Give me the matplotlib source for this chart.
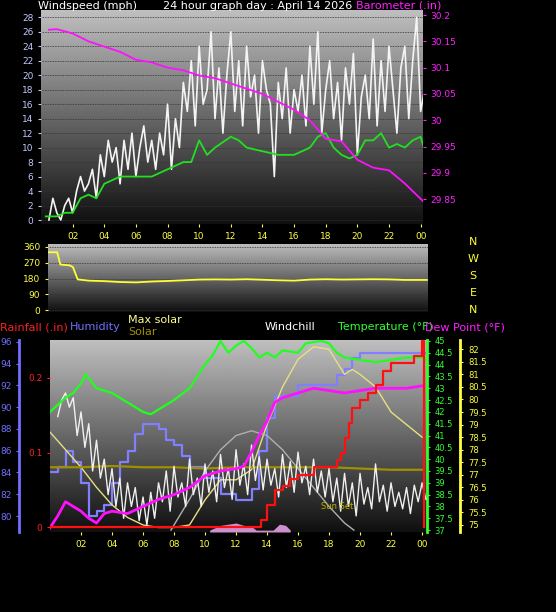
import numpy as np
import matplotlib
matplotlib.use("Agg")
import matplotlib.pyplot as plt

W, H = 556, 612
# ---------------- data ----------------
baro_t = [0.5,1,2,3,4,5,6,7,8,9,10,11,12,13,14,15,16,17,18,19,20,21,22,23,24.2]
baro = [30.172,30.173,30.165,30.15,30.14,30.13,30.115,30.11,30.10,30.095,30.085,30.08,30.07,30.06,30.05,30.035,30.02,30.0,29.965,29.96,29.925,29.91,29.905,29.88,29.845]
wavg_t = [0.3,1,1.5,2,2.5,3,3.5,4,5,6,7,8,9,9.5,10,10.5,11,12,12.5,13,14,15,16,17,17.5,18,18.5,19,19.5,20,20.5,21,21.5,22,22.5,23,23.5,24,24.2]
wavg = [0.5,0.5,1,1,3,3.5,3,5,6,6,6,7,8,8,11,9,10,11.5,11,10,9.5,9,9,10,11.5,12,10,9,8.5,9,11,11,12,10,10.5,10,11,11.5,10]
gust = [0,3,1,0,2,3,1,4, 6,4,5,7,3,9,6,11, 8,10,5,11,7,12,6,10, 13,8,11,7,12,9,16,7,
        14,10,19,15,22,13,24,16, 18,26,14,21,12,20,26,15, 22,13,24,17,20,12,22,18,
        16,6,19,14,21,12,18,15, 20,13,24,16,26,12,18,22, 14,19,11,21,16,23,9,17,
        20,14,25,13,22,15,24,18, 12,21,24,14,22,28,15,18]
dir_t = [0.4,1.0,1.2,1.8,2.0,2.3,3,4,5,6,7,8,9,10,11,12,13,14,15,16,17,18,19,20,21,22,23,24.4]
wdir = [330,330,260,255,245,175,168,165,160,158,163,166,170,174,175,174,176,173,170,168,174,176,174,175,176,175,172,172]

t3 = [0,0.5,1,1.5,2,2.3,3,4,5,6,6.5,7,8,9,10,10.5,11,11.5,12,12.5,13,13.5,14,14.5,15,16,16.5,17.5,18,18.5,19,20,21,22,23,24,24.2]
temp = [42.0,42.3,42.6,42.8,43.2,43.6,43.0,42.8,42.4,42.0,41.9,42.1,42.5,43.0,44.0,44.4,45.0,44.5,44.8,45.0,44.7,44.3,44.5,44.3,44.6,44.5,44.9,45.0,44.9,44.5,44.3,44.2,44.1,44.2,44.3,44.3,44.2]
hum_t = [0,0.5,1,1.5,2,2.5,3,3.5,4,4.5,5,5.5,6,7,7.5,8,8.5,9,10,11,12,13,13.5,14,14.5,15,16,17,18,18.5,19,19.5,20,24,24.2]
hum = [84,84.5,86,85,83,80,80.5,81,83,85,86,87.5,88.5,88,87,86.5,85.5,84.5,83.5,82,81.5,82.5,86,89,91,91,92,92,92,93,93.5,94.5,95,95,95]
dew_t = [0,0.5,1,1.5,2,2.5,3,3.5,4,5,6,7,8,9,10,11,12,12.5,13,13.5,14,14.5,15,16,17,18,19,20,21,22,23,24]
dew = [37.1,37.6,38.2,38.0,37.8,37.5,37.3,37.7,37.8,37.7,38.0,38.3,38.5,38.8,39.3,39.5,39.6,39.7,40.3,41.0,41.6,42.4,42.6,42.8,43.0,42.9,42.8,42.9,43.0,43.0,43.0,43.1]
rain_t = [0,13.6,14,14.5,15,15.5,16,17,18.5,18.8,19,19.3,19.5,20,20.5,21,21.5,22,23.5,24,24.1]
rain = [0,0.01,0.03,0.05,0.055,0.065,0.07,0.08,0.09,0.10,0.12,0.14,0.16,0.17,0.18,0.19,0.21,0.22,0.23,0.25,0.0]
maxsol_t = [0,1,2,3,4,5,6,7,8,9,10,11,12,13,14,15,16,17,18,18.5,19,19.5,20,21,22,23,24]
maxsol = [78.7,78,77.3,76.5,75.8,75.3,75,74.9,74.9,75,76,76.8,76.8,77.2,79,80.5,81.6,82.1,82,81.5,81,81.2,81,80.5,79.5,79,78.5]
sol_t = [0,2,4,6,8,10,12,14,16,18,20,22,24]
sol = [77.3,77.3,77.35,77.3,77.3,77.25,77.3,77.3,77.3,77.3,77.25,77.2,77.2]
arc_t = [7.8,9,10,11,12,13,14,15,16,17,18,19,19.6]
arc = [37.0,38.3,39.5,40.4,41.0,41.2,41.0,40.4,39.6,38.8,38.0,37.3,37.0]
wc = [41.8,42.5,42.8,42.2,42.6,41.0,42.0,40.5, 41.5,39.5,40.8,39.2,40.0,38.5,39.6,38.0,
      39.2,37.5,39.0,38.0,38.8,37.4,38.4,37.2, 38.6,37.5,39.0,38.2,39.5,37.8,39.7,38.4,
      39.0,38.0,40.0,38.5,39.2,38.0,39.8,38.6, 39.5,38.2,40.2,38.8,39.6,38.3,40.4,38.9,
      39.8,38.5,40.6,39.1,40.1,38.7,40.0,38.9, 39.6,38.4,40.2,38.8,39.9,38.6,40.3,39.0,
      39.7,38.5,40.0,38.6,39.5,38.4,39.6,38.2, 39.2,37.8,39.4,38.0,39.0,37.6,39.4,38.1,
      38.8,37.9,39.8,38.2,38.9,37.8,39.0,38.0, 38.6,37.9,38.8,37.7,38.9,38.2,39.0,38.3]
rad_t = [10.3,11,11.5,12,12.5,13,13.3,14.4,14.8,15.2,15.5]
rad = [37.0,37.2,37.25,37.3,37.2,37.15,37.0,37.0,37.25,37.2,37.0]

hour_ticks = [2,4,6,8,10,12,14,16,18,20,22,24]
hour_labels = ["02","04","06","08","10","12","14","16","18","20","22","00"]

# --------------- helpers --------------
fig = plt.figure(figsize=(W/100, H/100), dpi=100, facecolor="black")
plt.rcParams['font.family'] = ['DejaVu Sans']

def rect(l, t, r, b):
    return [l/W, 1-b/H, (r-l)/W, (b-t)/H]

def grad(ax):
    g = np.linspace(0.06, 0.75, 256)[:, None]
    ax.imshow(g, cmap="gray", vmin=0, vmax=1, aspect="auto", extent=(0, 1, 0, 1),
              transform=ax.transAxes, zorder=0, origin="lower")

def base(ax, xl, yl, ycol):
    ax.set_facecolor("black")
    grad(ax)
    ax.set_xlim(*xl); ax.set_ylim(*yl)
    for s in ax.spines.values():
        s.set_visible(False)
    ax.tick_params(colors=ycol, labelsize=6.5, length=2)
    ax.grid(axis="y", color="#333333", lw=0.6, ls=(0, (1, 1)))
    ax.set_axisbelow(False)

fs = 8
# -------------- panel 1 ---------------
ax1 = fig.add_axes(rect(41, 10, 423, 224))
base(ax1, (0, 24.15), (-0.55, 29.0), "#c0c8ff")
ax1.set_yticks(range(0, 29, 2))
ax1.set_xticks(hour_ticks); ax1.set_xticklabels(hour_labels)
ax1.tick_params(axis="x", colors="#ffff40")
gt = 0.5 + 0.25*np.arange(len(gust))
ax1.plot(gt, gust, color="#f4f4f4", lw=1.2, zorder=3)
ax1.plot(wavg_t, wavg, color="#20e020", lw=1.3, zorder=4)
ax1b = ax1.twinx()
ax1b.set_ylim(29.803, 30.2095)
ax1b.set_yticks([29.85, 29.9, 29.95, 30.0, 30.05, 30.1, 30.15, 30.2])
ax1b.set_yticklabels(["29.85","29.9","29.95","30","30.05","30.1","30.15","30.2"])
ax1b.tick_params(colors="#ff20ff", labelsize=6.5, length=2)
for s in ax1b.spines.values(): s.set_visible(False)
ax1b.plot(baro_t, baro, color="#ff10ff", lw=1.3, zorder=5)
fig.text(38/W, 1-6/H, "Windspeed (mph)", color="white", fontsize=fs, va="center")
fig.text(258/W, 1-6/H, "24 hour graph day : April 14 2026", color="white", fontsize=fs, va="center", ha="center")
fig.text(441/W, 1-6/H, "Barometer (.in)", color="#ff20ff", fontsize=fs, va="center", ha="right")

# -------------- panel 2 ---------------
ax2 = fig.add_axes(rect(48, 244, 428, 312))
base(ax2, (0.42, 24.47), (-11, 377), "#ffff40")
ax2.set_yticks([0, 90, 180, 270, 360])
ax2.set_xticks([])
ax2.plot(dir_t, wdir, color="#ffff30", lw=1.3, zorder=3)
for y, s in zip([242, 259, 276, 293, 310], ["N", "W", "S", "E", "N"]):
    fig.text(473/W, 1-y/H, s, color="#ffff30", fontsize=8, ha="center", va="center")

# -------------- panel 3 ---------------
ax3 = fig.add_axes(rect(50, 340, 427, 532))
base(ax3, (0, 24.32), (36.92, 45.04), "#30ff30")
ax3.set_yticks([])
ax3.set_xticks(hour_ticks); ax3.set_xticklabels(hour_labels)
ax3.tick_params(axis="x", colors="#ffff40")
axh = ax3.twinx()
axh.set_ylim(78.53, 96.18)
axh.yaxis.set_ticks_position("left")
axh.spines["left"].set_position(("outward", 22))
axh.spines["left"].set_color("#7070ff"); axh.spines["left"].set_linewidth(2)
for k in ["right", "top", "bottom"]: axh.spines[k].set_visible(False)
axh.set_yticks([80, 82, 84, 86, 88, 90, 92, 94, 96])
axh.tick_params(colors="#7070ff", labelsize=6.5, length=2)
axh.plot(hum_t, hum, color="#8080ff", lw=1.6, drawstyle="steps-post", zorder=3)
axr = ax3.twinx()
axr.set_ylim(-0.0067, 0.251)
axr.yaxis.set_ticks_position("left")
for s in axr.spines.values(): s.set_visible(False)
axr.set_yticks([0, 0.1, 0.2]); axr.set_yticklabels(["0", "0.1", "0.2"])
axr.tick_params(colors="#ff2020", labelsize=6.5, length=2)
axs = ax3.twinx()
axs.set_ylim(74.72, 82.37)
axs.spines["right"].set_position(("outward", 24))
axs.spines["right"].set_color("#ffff40"); axs.spines["right"].set_linewidth(2)
for k in ["left", "top", "bottom"]: axs.spines[k].set_visible(False)
axs.set_yticks(np.arange(75, 82.1, 0.5))
axs.set_yticklabels([("%g" % v) for v in np.arange(75, 82.1, 0.5)])
axs.tick_params(colors="#ffff40", labelsize=6, length=2)
axs.plot(maxsol_t, maxsol, color="#e8e080", lw=1.0)
axs.plot(sol_t, sol, color="#a09000", lw=1.6)
axt = ax3.twinx()
axt.set_ylim(36.92, 45.04)
axt.spines["right"].set_color("#30ff30"); axt.spines["right"].set_linewidth(2)
for k in ["left", "top", "bottom"]: axt.spines[k].set_visible(False)
axt.set_yticks(np.arange(37, 45.1, 0.5))
axt.set_yticklabels([("%g" % v) for v in np.arange(37, 45.1, 0.5)])
axt.tick_params(colors="#30ff30", labelsize=6, length=2)
axt.fill_between(rad_t, 36.92, rad, color="#ffb0ff", alpha=0.8, lw=0)
axt.plot(arc_t, arc, color="#b0b0b0", lw=1.0)
wt = 0.5 + 0.25*np.arange(len(wc))
axt.plot(wt, wc, color="#f0f0f0", lw=1.0, zorder=3)
axt.plot(dew_t, dew, color="#ff10ff", lw=2.0, zorder=4)
axt.plot(t3, temp, color="#20ff20", lw=1.6, zorder=5)
axr.plot(rain_t, rain, color="#ff1010", lw=1.6, drawstyle="steps-post", zorder=6)
axr.set_zorder(axt.get_zorder()+1); axr.patch.set_visible(False)
axt.text(17.5, 37.9, "Sun Set", color="#c0b000", fontsize=6)

fig.text(0, 1-327/H, "Rainfall (.in)", color="#ff2020", fontsize=fs, va="center")
fig.text(70/W, 1-327/H, "Humidity", color="#7070ff", fontsize=fs, va="center")
fig.text(128/W, 1-320/H, "Max solar", color="#ffff90", fontsize=fs, va="center")
fig.text(128/W, 1-332/H, "Solar", color="#a09000", fontsize=fs, va="center")
fig.text(265/W, 1-327/H, "Windchill", color="white", fontsize=fs, va="center")
fig.text(338/W, 1-327/H, "Temperature (°F)", color="#30ff30", fontsize=fs, va="center")
fig.text(425/W, 1-327/H, "Dew Point (°F)", color="#ff20ff", fontsize=fs, va="center")

fig.savefig("out.png", dpi=100, facecolor="black")
